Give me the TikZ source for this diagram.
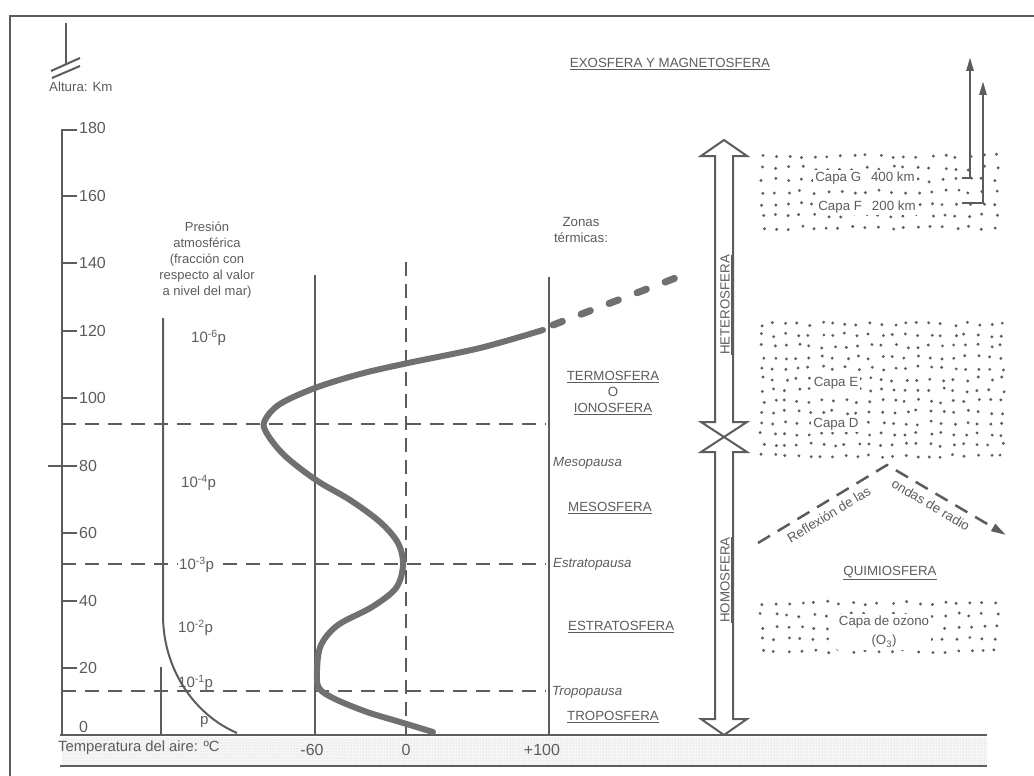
\documentclass[tikz,border=0pt]{standalone}
\usepackage{fontspec}
\setmainfont{Liberation Sans}
\usetikzlibrary{arrows.meta,positioning,patterns}
\definecolor{ink}{RGB}{92,92,92}
\definecolor{tcurve}{RGB}{112,112,112}
\tikzset{
  zonelbl/.style={font=\fontsize{13.3}{16}\selectfont, text=ink, inner sep=1pt},
  pausalbl/.style={zonelbl, font=\fontsize{13.3}{16}\selectfont\itshape, anchor=west},
  kmlbl/.style={font=\fontsize{16}{18}\selectfont, text=ink, inner sep=1pt},
  preslbl/.style={font=\fontsize{15}{17}\selectfont, text=ink, inner sep=1pt, anchor=west},
  capalbl/.style={zonelbl, fill=white, inner sep=2pt},
  pausaline/.style={draw=ink, line width=2, dash pattern=on 14pt off 9pt},
}

\begin{document}
\begin{tikzpicture}[x=1pt, y=-1pt]
\useasboundingbox (0,0) rectangle (1034,776);

% Frame and axis break
\draw[ink, line width=1.5] (10,776) -- (10,16) -- (1034,16);
\draw[ink, line width=2] (66,23) -- (66,64);
\draw[ink, line width=2] (51,71) -- (80,58) (52,78) -- (80,66);
\node[zonelbl, anchor=west] (alt) at (48,87) {Altura: Km};

% Height axis
\draw[ink, line width=2.5] (77,130) -- (62,130) -- (62,735);
\foreach \h in {20,40,...,160}
    \draw[ink, line width=2] (62,{735.5-3.375*\h}) -- (77,{735.5-3.375*\h});
\draw[ink, line width=2] (48,465.5) -- (62,465.5);
\foreach \h in {20,40,...,180}
    \node[kmlbl, anchor=west] (km\h) at (78,{735.5-3.375*\h}) {\h};
\node[kmlbl, anchor=west] (km0) at (78,727) {0};

% Ground band
\fill[gray!7] (62,737) rectangle (987,765);
\fill[pattern=dots, pattern color=gray!45] (62,737) rectangle (987,765);
\draw[ink, line width=2.5] (60,735) -- (987,735);
\draw[ink, line width=2] (60,766) -- (987,766);
\node[zonelbl, font=\fontsize{14.8}{17}\selectfont, anchor=west] (tair) at (57,748) {Temperatura del aire: ºC};
\foreach \x/\t/\n in {312/-60/tm, 406/0/tz, 542/+100/tp}
    \node[kmlbl] (\n) at (\x,750) {\t};

% Pressure column
\node[zonelbl, font=\fontsize{13}{16}\selectfont, align=center] (pres) at (207,260)
    {Presión\\atmosférica\\(fracción con\\respecto al valor\\a nivel del mar)};
\draw[ink, line width=2] (163,318) -- (163,615) .. controls (163,670) and (195,715) .. (237,733);
\draw[ink, line width=2] (161,667) -- (161,735);

% Pauses
\foreach \y in {424,564,691}
    \draw[pausaline] (62,\y) -- (546,\y);
\foreach \x/\y/\e/\n in {190/338/-6/p6, 180/483/-4/p4, 177/628/-2/p2, 177/683/-1/p1}
    \node[preslbl] (\n) at (\x,\y) {10\textsuperscript{\e}p};
\node[preslbl, fill=white] (p3) at (178,565) {10\textsuperscript{-3}p};
\node[preslbl] (p0) at (199,722) {p};

% Temperature lines
\draw[ink, line width=2.5] (315,275) -- (315,735);
\draw[ink, line width=2.5, dash pattern=on 14pt off 8pt] (406,262) -- (406,735);
\draw[ink, line width=2.5] (549,277) -- (549,735);

% Temperature profile
\draw[tcurve, line width=6, line cap=round, line join=round] plot[smooth, tension=0.55] coordinates {
    (433,732) (400,722) (367,712) (335,699) (319,688) (317,670) (321,645) (338,625)
    (372,607) (396,588) (403,565) (398,543) (380,522) (350,500) (316,480) (284,455)
    (266,432) (265,420) (280,404) (315,388) (360,374) (408,363) (480,348) (543,330)};
\draw[tcurve, line width=7, line cap=round, dash pattern=on 10pt off 20pt] (553,325) -- (686,274);

% Thermal zones
\node[zonelbl, align=center] (zonas) at (581,230) {Zonas\\térmicas:};
\node[zonelbl, align=center] (termo) at (613,393) {\underline{TERMOSFERA}\\O\\\underline{IONOSFERA}};
\node[zonelbl, anchor=west] (meso) at (567,508) {\underline{MESOSFERA}};
\node[zonelbl, anchor=west] (estra) at (567,627) {\underline{ESTRATOSFERA}};
\node[zonelbl, anchor=west] (tropo) at (566,717) {\underline{TROPOSFERA}};
\node[pausalbl] (mesop) at (552,463) {Mesopausa};
\node[pausalbl] (estrap) at (552,564) {Estratopausa};
\node[pausalbl] (tropop) at (551,692) {Tropopausa};
\node[zonelbl] (exo) at (670,64) {\underline{EXOSFERA Y MAGNETOSFERA}};

% Heterosfera / homosfera arrows
\draw[ink, line width=2, fill=white] (724,140) -- (747,156) -- (733,156) -- (733,422) -- (747,422)
    -- (724,437) -- (701,422) -- (715,422) -- (715,156) -- (701,156) -- cycle;
\draw[ink, line width=2, fill=white] (724,437) -- (747,452) -- (733,452) -- (733,719) -- (747,719)
    -- (724,735) -- (701,719) -- (715,719) -- (715,452) -- (701,452) -- cycle;
\node[zonelbl, rotate=90] (hetero) at (726,305) {\underline{HETEROSFERA}};
\node[zonelbl, rotate=90] (homo) at (726,580) {\underline{HOMOSFERA}};

% Dotted layers
\pgfmathsetseed{11}
\foreach \xa/\ya/\xb/\yb/\sx/\sy in {762/156/1002/238/13/12, 762/324/1002/462/12/11, 762/603/1000/662/13/12} {
    \pgfmathtruncatemacro\nx{(\xb-\xa)/\sx}
    \pgfmathtruncatemacro\ny{(\yb-\ya)/\sy}
    \foreach \i in {0,...,\nx}
        \foreach \j in {0,...,\ny}
            \fill[ink] ({\xa+\i*\sx+2.5*rand},{\ya+\j*\sy+2*rand}) circle (1.6pt);
}
\node[capalbl] (capag) at (865,178) {Capa G\hspace{10pt}400 km};
\node[capalbl] (capaf) at (867,207) {Capa F\hspace{10pt}200 km};
\node[capalbl] (capae) at (836,383) {Capa E};
\node[capalbl] (capad) at (836,424) {Capa D};
\node[capalbl, align=center, font=\fontsize{13.3}{19}\selectfont] (ozono) at (884,632) {Capa de ozono\\(O\textsubscript{3})};
\node[zonelbl] (quimio) at (890,573) {\underline{QUIMIOSFERA}};

% Ionized layers escaping upward
\coordinate (g0) at (962,178);
\coordinate (f0) at (962,203);
\draw[ink, line width=2.5, -{Triangle[length=14pt,width=7pt]}] (g0) -- (970,178) -- (970,57);
\draw[ink, line width=2.5, -{Triangle[length=14pt,width=7pt]}] (f0) -- (983,203) -- (983,81);

% Radio waves
\coordinate (r1) at (758,543);
\coordinate (apex) at (887,465);
\coordinate (r2) at (1006,535);
\draw[ink, line width=2.5, dash pattern=on 14pt off 9pt, -{Triangle[length=15pt,width=8pt]}]
    (r1) -- node[sloped, below=5pt, pos=0.5, zonelbl] (refl) {Reflexión de las}
    (apex) -- node[sloped, below=5pt, pos=0.42, zonelbl] (ondas) {ondas de radio} (r2);
\end{tikzpicture}
\end{document}
